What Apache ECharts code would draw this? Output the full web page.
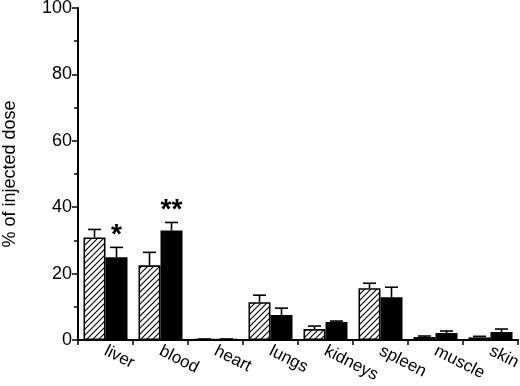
<!DOCTYPE html>
<html><head><meta charset="utf-8">
<script src="https://cdn.jsdelivr.net/npm/echarts@6/dist/echarts.min.js"></script>
<style>html,body{margin:0;padding:0;background:#fff}#c{width:520px;height:386px}</style>
</head><body><div id="c"></div>
<script>
var categories = ['liver','blood','heart','lungs','kidneys','spleen','muscle','skin'];
var hatchedMean = [30.9, 22.5, 0.2, 11.4, 3.3, 15.6, 0.9, 0.8];
var hatchedErr  = [2.4, 3.9, 0.1, 2.1, 0.9, 1.5, 0.3, 0.3];
var solidMean   = [24.9, 33.0, 0.2, 7.5, 5.4, 12.9, 2.1, 2.4];
var solidErr    = [3.0, 2.4, 0.1, 2.1, 0.3, 3.0, 0.6, 0.9];
var significance = ['*', '**', '', '', '', '', '', ''];
var yTicks = [0, 20, 40, 60, 80, 100];

// hatch pattern
var tile = document.createElement('canvas');
tile.width = 6; tile.height = 6;
var g = tile.getContext('2d');
g.fillStyle = '#fff'; g.fillRect(0,0,6,6);
g.strokeStyle = '#000'; g.lineWidth = 1.1;
g.beginPath();
g.moveTo(-1,7); g.lineTo(7,-1);
g.moveTo(-1,1); g.lineTo(1,-1);
g.moveTo(5,7); g.lineTo(7,5);
g.stroke();

var FONT = '"Liberation Sans", Arial, sans-serif';
var BAR_W = 22;
function errSeries(means, errs, side, labels) {
  return {
    type: 'custom',
    z: 5,
    data: means.map(function(m, i){ return [i, m, errs[i]]; }),
    renderItem: function(params, api) {
      var i = api.value(0), m = api.value(1), e = api.value(2);
      var base = api.coord([i, m]);
      var top = api.coord([i, m + e]);
      var x = base[0] + side * BAR_W / 2;
      var children = [
        {type:'line', shape:{x1:x, y1:base[1], x2:x, y2:top[1]}, style:{stroke:'#000', lineWidth:1.6}},
        {type:'line', shape:{x1:x-6.5, y1:top[1], x2:x+6.5, y2:top[1]}, style:{stroke:'#000', lineWidth:1.6}}
      ];
      if (labels && labels[i]) {
        children.push({type:'text', x: x, y: top[1] + 2,
          style:{text: labels[i], fill:'#000', font:'bold 28px ' + FONT, textAlign:'center', textVerticalAlign:'bottom'}});
      }
      return {type:'group', children: children};
    }
  };
}

var chart = echarts.init(document.getElementById('c'));
chart.setOption({
  animation: false,
  grid: {left: 78, right: 2, top: 8, bottom: 46, containLabel: false, outerBoundsMode: 'none'},
  xAxis: {
    type: 'category', data: categories,
    axisLine: {lineStyle: {color:'#000', width: 2}},
    axisTick: {show: true, length: 5, lineStyle:{color:'#000', width:1.5}},
    axisLabel: {rotate: -27, color:'#000', fontSize: 17, fontFamily: FONT, margin: 10, interval: 0}
  },
  yAxis: {
    type: 'value', min: 0, max: 100, interval: 20,
    name: '% of injected dose', nameLocation: 'middle', nameGap: 59,
    nameTextStyle: {color:'#000', fontSize: 18, fontFamily: FONT},
    axisLine: {show: true, lineStyle: {color:'#000', width: 2}},
    axisTick: {show: true, length: 6, lineStyle:{color:'#000', width:1.5}},
    minorTick: {show: true, splitNumber: 2, length: 4, lineStyle:{color:'#000', width:1.5}},
    splitLine: {show: false},
    axisLabel: {color:'#000', fontSize: 18, fontFamily: FONT, margin: 6,
      formatter: function(v){ return yTicks.indexOf(v) >= 0 ? String(v) : ''; }}
  },
  series: [
    {type:'bar', data: hatchedMean, barWidth: BAR_W, barGap: '0%',
     itemStyle: {color: {image: tile, repeat: 'repeat'}, borderColor:'#000', borderWidth: 1.6}},
    {type:'bar', data: solidMean, barWidth: BAR_W,
     itemStyle: {color: '#000', borderColor:'#000', borderWidth: 1.6}},
    errSeries(hatchedMean, hatchedErr, -1, null),
    errSeries(solidMean, solidErr, 1, significance)
  ]
});
</script></body></html>
